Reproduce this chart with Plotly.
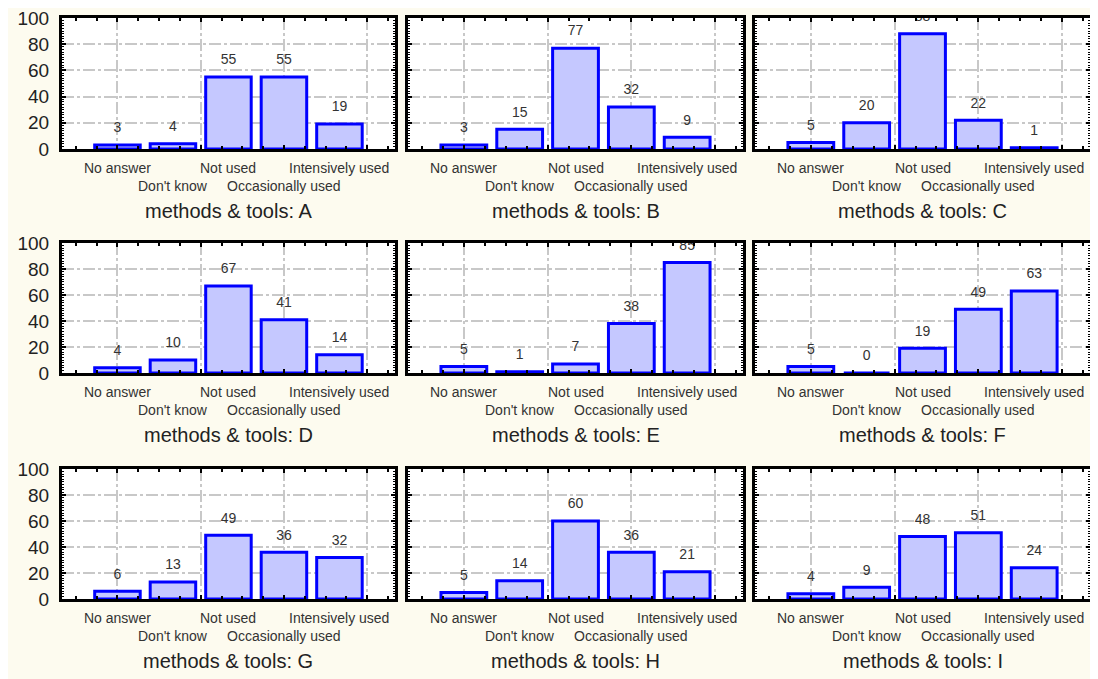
import plotly.graph_objects as go

# answer categories (x axis of every panel)
categories = ["No answer", "Don't know", "Not used", "Occasionally used", "Intensively used"]
panel_names = ["A", "B", "C", "D", "E", "F", "G", "H", "I"]

# counts per panel
values_A = [3, 4, 55, 55, 19]
values_B = [3, 15, 77, 32, 9]
values_C = [5, 20, 88, 22, 1]
values_D = [4, 10, 67, 41, 14]
values_E = [5, 1, 7, 38, 85]
values_F = [5, 0, 19, 49, 63]
values_G = [6, 13, 49, 36, 32]
values_H = [5, 14, 60, 36, 21]
values_I = [4, 9, 48, 51, 24]

panel_values = [values_A, values_B, values_C, values_D, values_E,
                values_F, values_G, values_H, values_I]

positions = list(range(1, len(categories) + 1))

# panel placement (paper fractions; the page adds an 8px body margin)
col_domains = [(0.0495, 0.3550), (0.3670, 0.6743), (0.6853, 0.9927)]
row_domains = [(0.7899, 0.9851), (0.4560, 0.6498), (0.1192, 0.3130)]

FONT = "Liberation Sans, Arial, sans-serif"
GRID = "#C8C8C8"
DASH = "12px,3px,3px,3px"

fig = go.Figure()
annotations = []

for k, (name, vals) in enumerate(zip(panel_names, panel_values)):
    r, c = divmod(k, 3)
    n = "" if k == 0 else str(k + 1)
    xa, ya = "x" + n, "y" + n

    fig.add_trace(go.Bar(
        x=positions, y=vals, xaxis=xa, yaxis=ya, width=0.82,
        marker=dict(color="#C5C8FF", line=dict(color="#0000FF", width=3)),
        showlegend=False,
    ))
    fig.add_trace(go.Scatter(
        x=positions, y=vals, text=[str(v) for v in vals], xaxis=xa, yaxis=ya,
        mode="markers+text", textposition="top center",
        marker=dict(size=13, color="rgba(0,0,0,0)"),
        textfont=dict(size=14, color="#333333", family=FONT),
        cliponaxis=True, showlegend=False, hoverinfo="skip",
    ))

    fig.layout["xaxis" + n] = dict(
        domain=col_domains[c], anchor=ya, range=[0, 6], automargin=False,
        tickmode="linear", tick0=1, dtick=1.5, showticklabels=False,
        ticks="inside", ticklen=4, tickwidth=2, tickcolor="black",
        showgrid=True, gridcolor=GRID, gridwidth=2, griddash=DASH,
        showline=True, linecolor="black", linewidth=3, mirror="allticks",
        zeroline=False, fixedrange=True,
        minor=dict(tickmode="linear", tick0=1, dtick=0.375, ticks="inside",
                   ticklen=3, tickwidth=1.5, tickcolor="black", showgrid=False),
    )
    fig.layout["yaxis" + n] = dict(
        domain=row_domains[r], anchor=xa, range=[0, 100], automargin=False,
        tickmode="linear", tick0=0, dtick=20, showticklabels=(c == 0),
        tickfont=dict(size=19, color="#222222", family=FONT),
        ticklabelstandoff=6, ticklabeloverflow="allow",
        ticks="inside", ticklen=4, tickwidth=2, tickcolor="black",
        showgrid=True, gridcolor=GRID, gridwidth=2, griddash=DASH,
        showline=True, linecolor="black", linewidth=3, mirror="allticks",
        zeroline=False, fixedrange=True,
        minor=dict(tickmode="linear", tick0=0, dtick=2, ticks="inside",
                   ticklen=2, tickwidth=1, tickcolor="black", showgrid=False),
    )

    # staggered category labels
    for i, cat in enumerate(categories):
        annotations.append(dict(
            x=positions[i], xref=xa, y=0, yref=ya + " domain",
            yshift=-19 if i % 2 == 0 else -37, yanchor="middle",
            text=cat, showarrow=False,
            font=dict(size=14, color="#333333", family=FONT),
        ))
    annotations.append(dict(
        x=0.5, xref=xa + " domain", y=0, yref=ya + " domain",
        yshift=-62, yanchor="middle", text="methods & tools: " + name,
        showarrow=False, font=dict(size=20, color="#222222", family=FONT),
    ))

fig.update_layout(
    width=1090, height=671,
    margin=dict(l=0, r=0, t=0, b=0),
    paper_bgcolor="#FDFBEF", plot_bgcolor="#FFFFFF",
    annotations=annotations, showlegend=False,
    font=dict(family=FONT),
)

fig.write_html("out.html")
